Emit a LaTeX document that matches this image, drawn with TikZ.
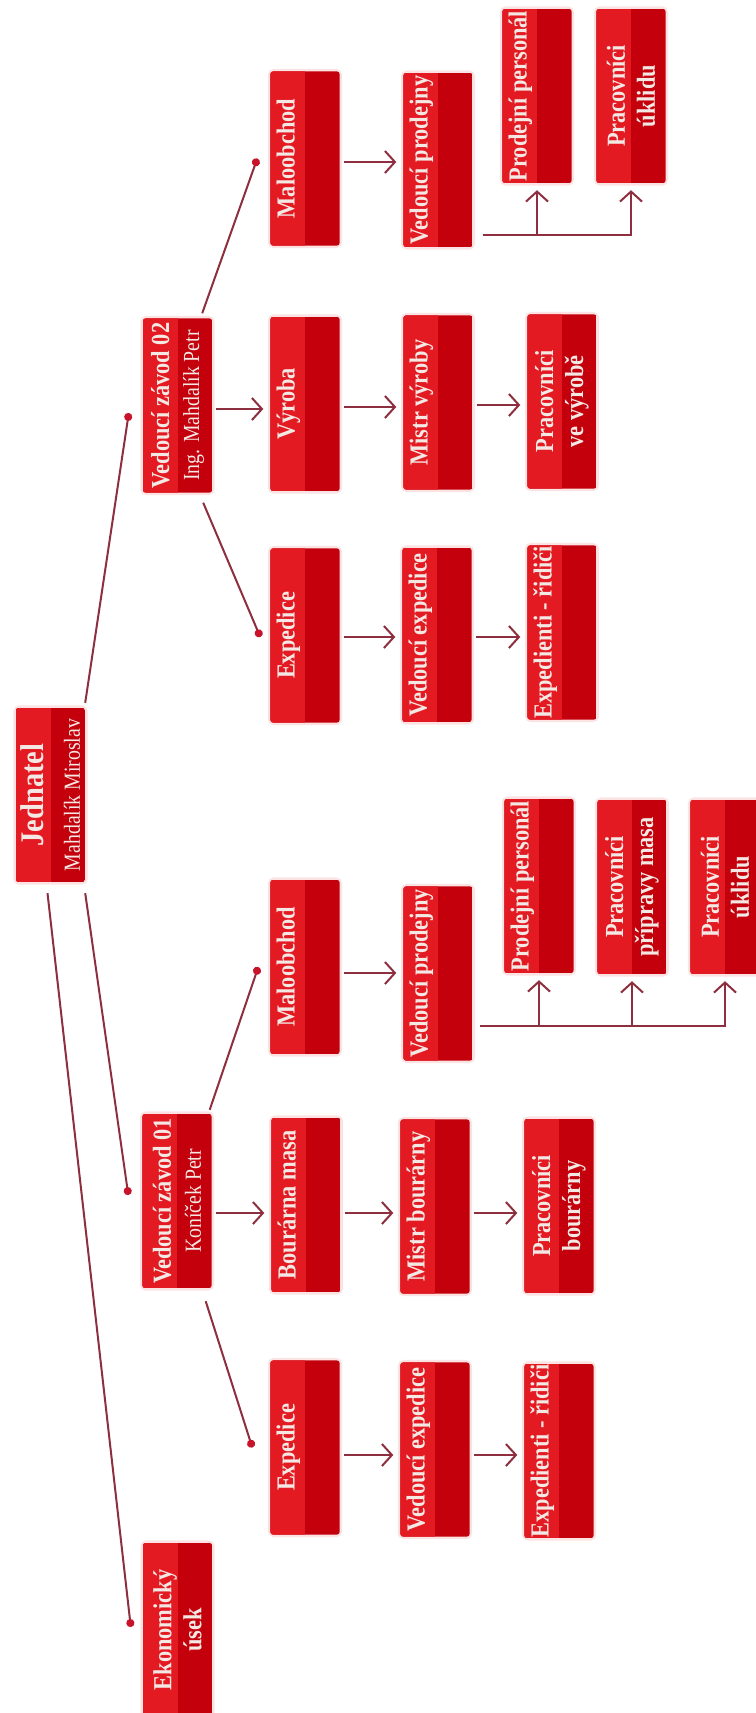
\documentclass[tikz,border=0pt]{standalone}
\usepackage{fontspec}
\setmainfont{Liberation Serif}[FakeStretch=0.86]
\usetikzlibrary{arrows.meta,backgrounds,calc}

\definecolor{boxlight}{HTML}{E31A22}
\definecolor{boxdark}{HTML}{C3000B}
\definecolor{boxglow}{HTML}{FBE3E4}
\definecolor{boxtext}{HTML}{F4E8E4}
\definecolor{linkred}{HTML}{8E2F3F}
\definecolor{dotred}{HTML}{C8142A}

\tikzset{
    unit/.style={rotate=90, minimum width=174pt, minimum height=69pt, inner sep=0pt,
        align=center, text=boxtext, font=\fontsize{26}{30}\selectfont\bfseries},
    head/.style={unit, font=\fontsize{33}{36}\selectfont\bfseries},
    link/.style={draw=linkred, line width=2pt},
    arr/.style={link, -{Straight Barb[length=10pt,width=22pt]}, shorten <=4pt, shorten >=7pt},
    tie/.style={link, -{Circle[length=8pt,color=dotred,fill=dotred]}},
}
\newcommand{\person}[1]{{\mdseries\fontsize{23}{30}\selectfont #1}}

\begin{document}
\begin{tikzpicture}[x=1pt, y=-1pt]

            \useasboundingbox (0,0) rectangle (755,1713);

            \node (jednatel) [head] at (50.5,795) {Jednatel\\\person{Mahdalík Miroslav}};

            \node (zavod02) [unit] at (177.5,405.5) {Vedoucí závod 02\\\person{Ing. Mahdalík Petr}};
            \node (zavod01) [unit] at (177,1201) {Vedoucí závod 01\\\person{Koníček Petr}};
            \node (ekonom) [unit] at (177.5,1630) {Ekonomický\\úsek};

            \node (malo02) [unit] at (305,158.5) {Maloobchod\\\strut};
            \node (vyroba) [unit] at (305,404) {Výroba\\\strut};
            \node (exped02) [unit] at (305,635.5) {Expedice\\\strut};
            \node (malo01) [unit] at (305,967) {Maloobchod\\\strut};
            \node (bourarna) [unit] at (306,1205) {Bourárna masa\\\strut};
            \node (exped01) [unit] at (305,1447.5) {Expedice\\\strut};

            \node (vedprod02) [unit] at (438,160) {Vedoucí prodejny\\\strut};
            \node (mistrvyr) [unit] at (438,402.5) {Mistr výroby\\\strut};
            \node (vedexp02) [unit] at (437,635) {Vedoucí expedice\\\strut};
            \node (vedprod01) [unit] at (438,973.5) {Vedoucí prodejny\\\strut};
            \node (mistrbour) [unit] at (435,1206.5) {Mistr bourárny\\\strut};
            \node (vedexp01) [unit] at (435,1449.5) {Vedoucí expedice\\\strut};

            \node (pracvyr) [unit] at (562,401.5) {Pracovníci\\ve výrobě};
            \node (ridici02) [unit] at (562,632.5) {Expedienti - řidiči\\\strut};
            \node (pracbour) [unit] at (559,1206) {Pracovníci\\bourárny};
            \node (ridici01) [unit] at (559,1451) {Expedienti - řidiči\\\strut};

            \node (prodpers02) [unit] at (537,96) {Prodejní personál\\\strut};
            \node (uklid02) [unit] at (631,96) {Pracovníci\\úklidu};
            \node (prodpers01) [unit] at (539,886) {Prodejní personál\\\strut};
            \node (priprava) [unit] at (632,887) {Pracovníci\\přípravy masa};
            \node (uklid01) [unit] at (725,887) {Pracovníci\\úklidu};

            % two-tone boxes behind the texts
            \begin{scope}[on background layer]
                \fill[white] (0,0) rectangle (755,1713);
                \foreach \b in {jednatel,zavod02,zavod01,ekonom,malo02,vyroba,exped02,malo01,bourarna,exped01,
                        vedprod02,mistrvyr,vedexp02,vedprod01,mistrbour,vedexp01,pracvyr,ridici02,pracbour,ridici01,
                        prodpers02,uklid02,prodpers01,priprava,uklid01} {
                    \draw[boxglow, line width=5pt, rounded corners=4pt] (\b.south west) rectangle (\b.north east);
                    \begin{scope}
                        \clip[rounded corners=3pt] (\b.south west) rectangle (\b.north east);
                        \fill[boxdark] (\b.south west) rectangle (\b.north east);
                        \fill[boxlight] (\b.north west) rectangle (\b.east);
                    \end{scope}
                }
            \end{scope}

            \draw[tie] ($(jednatel.south east)+(0,-5)$) -- ($(zavod02.north)+(-14,7.5)$);
            \draw[tie] ($(jednatel.south west)+(0,11)$) -- ($(zavod01.north)+(-14,-6)$);
            \draw[tie] ($(jednatel.west)+(-3,11)$) -- ($(ekonom.north)+(-12,-3)$);

            \draw[tie] ($(zavod02.south east)+(-10,-5)$) -- ($(malo02.north)+(-13,0)$);
            \draw[tie] ($(zavod02.south west)+(-9,10)$) -- ($(exped02.north)+(-10,1.5)$);
            \draw[tie] ($(zavod01.south east)+(-2,-4)$) -- ($(malo01.north)+(-12,0)$);
            \draw[tie] ($(zavod01.south west)+(-6,13)$) -- ($(exped01.north)+(-18,0)$);

            \foreach \a/\b/\dy in {zavod02/vyroba/-3.5, vyroba/mistrvyr/-3, mistrvyr/pracvyr/-2.5,
                    malo02/vedprod02/-3.5, exped02/vedexp02/-1.5, vedexp02/ridici02/-2,
                    zavod01/bourarna/-12, bourarna/mistrbour/-8, mistrbour/pracbour/-6.5,
                    malo01/vedprod01/-6, exped01/vedexp01/-7.5, vedexp01/ridici01/-5.5} {
                \coordinate (from) at ([yshift=\dy pt]\a.south);
                \draw[arr] (from) -- (from -| \b.north);
            }

            \coordinate (fork02) at ($(vedprod02.south west)+(10,-12)$);
            \draw[arr, shorten <=0pt] (fork02) -| (uklid02.west);
            \draw[arr, shorten <=0pt] (fork02 -| prodpers02.west) -- (prodpers02.west);

            \coordinate (fork01) at ($(vedprod01.south west)+(7,-35)$);
            \draw[arr, shorten <=0pt] (fork01) -| (uklid01.west);
            \draw[arr, shorten <=0pt] (fork01 -| prodpers01.west) -- (prodpers01.west);
            \draw[arr, shorten <=0pt] (fork01 -| priprava.west) -- (priprava.west);

        \end{tikzpicture}
\end{document}
